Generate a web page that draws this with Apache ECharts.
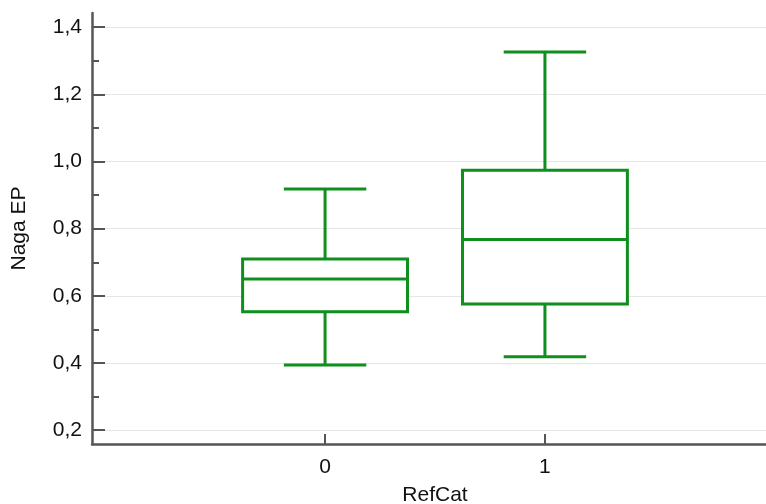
<!DOCTYPE html>
<html>
<head>
<meta charset="utf-8">
<script src="https://cdn.jsdelivr.net/npm/echarts@6/dist/echarts.min.js"></script>
<style>
  html, body { margin: 0; padding: 0; background: #fff; overflow: hidden; }
  #chart { width: 766px; height: 504px; }
</style>
</head>
<body>
<div id="chart"></div>
<script>
// Groups on the horizontal axis
const categories = [0, 1];
// Five-number summaries per group: whisker low, Q1, median, Q3, whisker high
const lowWhisker = [0.394, 0.419];
const q1 = [0.553, 0.576];
const median = [0.650, 0.768];
const q3 = [0.710, 0.974];
const highWhisker = [0.918, 1.326];
// Tick values
const yMajorTicks = [0.2, 0.4, 0.6, 0.8, 1.0, 1.2, 1.4];
const yMinorTicks = [0.3, 0.5, 0.7, 0.9, 1.1, 1.3];
const xTicks = [0, 1];

const GREEN = '#0e8f1e';
const BOX_W = 0.75;   // box width in x-axis units
const CAP_W = 0.375;  // whisker cap width in x-axis units

const boxData = categories.map((c, i) => [c, lowWhisker[i], q1[i], median[i], q3[i], highWhisker[i]]);

function fmt(v) { return v.toFixed(1).replace('.', ','); }

function renderBox(params, api) {
  const x = api.value(0);
  const lo = api.coord([x, api.value(1)]);
  const b1 = api.coord([x, api.value(2)]);
  const md = api.coord([x, api.value(3)]);
  const b3 = api.coord([x, api.value(4)]);
  const hi = api.coord([x, api.value(5)]);
  const half = api.size([BOX_W, 0])[0] / 2;
  const capHalf = api.size([CAP_W, 0])[0] / 2;
  const cx = lo[0];
  const style = { stroke: GREEN, lineWidth: 3, fill: null };
  return {
    type: 'group',
    children: [
      { type: 'line', shape: { x1: cx, y1: hi[1], x2: cx, y2: b3[1] }, style },
      { type: 'line', shape: { x1: cx, y1: b1[1], x2: cx, y2: lo[1] }, style },
      { type: 'line', shape: { x1: cx - capHalf, y1: hi[1], x2: cx + capHalf, y2: hi[1] }, style },
      { type: 'line', shape: { x1: cx - capHalf, y1: lo[1], x2: cx + capHalf, y2: lo[1] }, style },
      { type: 'rect', shape: { x: cx - half, y: b3[1], width: half * 2, height: b1[1] - b3[1] }, style: { stroke: GREEN, lineWidth: 3, fill: '#fff' } },
      { type: 'line', shape: { x1: cx - half, y1: md[1], x2: cx + half, y2: md[1] }, style }
    ]
  };
}

const chart = echarts.init(document.getElementById('chart'), null, { renderer: 'canvas' });
const FONT = 'Liberation Sans';
chart.setOption({
  animation: false,
  backgroundColor: '#fff',
  // the x axis runs a little past the right edge of the canvas
  grid: { left: 92, right: -12, top: 13, bottom: 60, outerBoundsMode: 'none', containLabel: false },
  xAxis: {
    type: 'value',
    min: -1.06,
    max: 2.06,
    name: 'RefCat',
    nameLocation: 'middle',
    nameGap: 41,
    nameTextStyle: { fontFamily: FONT, fontSize: 21, color: '#111' },
    axisLine: { show: true, onZero: false, lineStyle: { color: '#555', width: 2.5 } },
    axisTick: { show: true, inside: true, length: 10, customValues: xTicks, lineStyle: { color: '#555', width: 2 } },
    axisLabel: { customValues: xTicks, margin: 13, fontFamily: FONT, fontSize: 21, color: '#111', formatter: v => String(v) },
    splitLine: { show: false }
  },
  yAxis: [{
    type: 'value',
    min: 0.159,
    max: 1.442,
    position: 'left',
    name: 'Naga EP',
    nameLocation: 'middle',
    nameGap: 62,
    nameTextStyle: { fontFamily: FONT, fontSize: 21, color: '#111' },
    axisLine: { show: true, onZero: false, lineStyle: { color: '#555', width: 2.5 } },
    axisTick: { show: true, inside: true, length: 13, customValues: yMajorTicks, lineStyle: { color: '#555', width: 2 } },
    axisLabel: { customValues: yMajorTicks, margin: 10, fontFamily: FONT, fontSize: 21, color: '#111', formatter: fmt },
    splitLine: { show: true, lineStyle: { color: '#e6e6e6', width: 1 } }
  }, {
    type: 'value',
    min: 0.159,
    max: 1.442,
    position: 'left',
    offset: 0,
    axisLine: { show: false, onZero: false },
    axisTick: { show: true, inside: true, length: 7, customValues: yMinorTicks, lineStyle: { color: '#555', width: 2 } },
    axisLabel: { show: false },
    splitLine: { show: false }
  }],
  series: [{
    type: 'custom',
    renderItem: renderBox,
    encode: { x: 0, y: [1, 2, 3, 4, 5] },
    data: boxData,
    clip: false
  }]
});
</script>
</body>
</html>
